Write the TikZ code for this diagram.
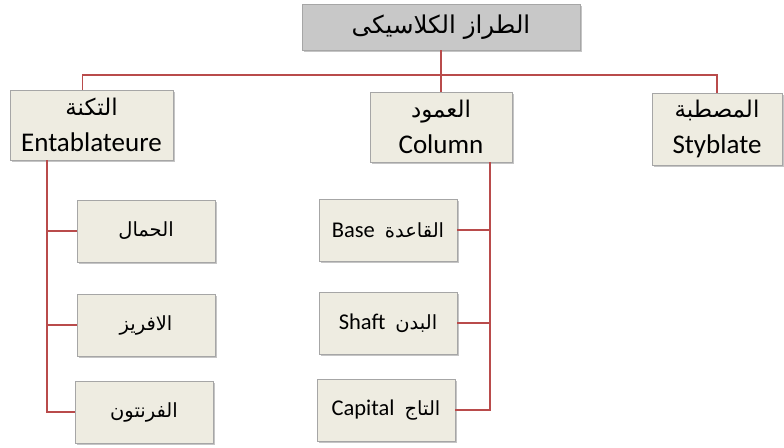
\documentclass[tikz,border=0pt]{standalone}
\usepackage{fontspec}
\setmainfont{Carlito}
\newfontfamily\arabicfont[Script=Arabic]{DejaVu Sans}
\TeXXeTstate=1
\usetikzlibrary{shadows}

\definecolor{boxfill}{RGB}{238,236,225}
\definecolor{titlefill}{RGB}{200,200,200}
\definecolor{linkred}{RGB}{185,75,75}

\newcommand{\ar}[2][22]{{\arabicfont\fontsize{#1}{#1}\selectfont\beginR #2\endR}}

\tikzset{
  part/.style={draw=black!35, fill=boxfill, align=center, inner sep=0pt,
    drop shadow={shadow xshift=1.5pt, shadow yshift=-2pt, fill=black!45}},
  group/.style={part, font=\fontsize{27}{36}\selectfont},
  leaf/.style={part, minimum width=138pt, minimum height=62pt,
    font=\fontsize{22.5}{26}\selectfont},
  link/.style={draw=linkred, line width=1.2pt}
}

\begin{document}
\begin{tikzpicture}[x=1pt,y=-1pt]
    \useasboundingbox (0,0) rectangle (784,447);

    \node[part, fill=titlefill, minimum width=278pt, minimum height=46pt] (title) at (441,27)
      {\ar[24.5]{الطراز الكلاسيكى}};

    \node[group, minimum width=163pt, minimum height=70pt] (ent) at (91.5,125)
      {\ar[23]{التكنة}\\Entablateure};
    \node[group, minimum width=142pt, minimum height=70pt] (col) at (441,127)
      {\ar[23]{العمود}\\Column};
    \node[group, minimum width=130pt, minimum height=72pt] (sty) at (717,129)
      {\ar[23]{المصطبة}\\Styblate};

    \node[leaf] (hammal) at (146,231) {\ar[19.5]{الحمال}};
    \node[leaf] (frieze) at (146,325) {\ar[19.5]{الافريز}};
    \node[leaf] (pediment) at (144,412) {\ar[19.5]{الفرنتون}};

    \node[leaf] (base) at (388,230) {Base\hspace{10pt}\ar[19.5]{القاعدة}};
    \node[leaf] (shaft) at (388,323) {Shaft\hspace{10pt}\ar[19.5]{البدن}};
    \node[leaf] (capital) at (386,410) {Capital\hspace{10pt}\ar[19.5]{التاج}};

    \coordinate (bus) at (0,75);
    \draw[link] (title.south) -- (title.south |- bus);
    \draw[link] ([xshift=-9pt]ent.north) |- (bus -| sty.north) -- (sty.north);
    \draw[link] (col.north) -- (col.north |- bus);

    \foreach \n in {hammal,frieze,pediment}
      \draw[link] ([xshift=-44.5pt]ent.south) |- (\n.west);
    \foreach \n in {base,shaft,capital}
      \draw[link] ([xshift=49pt]col.south) |- (\n.east);
  \end{tikzpicture}
\end{document}
